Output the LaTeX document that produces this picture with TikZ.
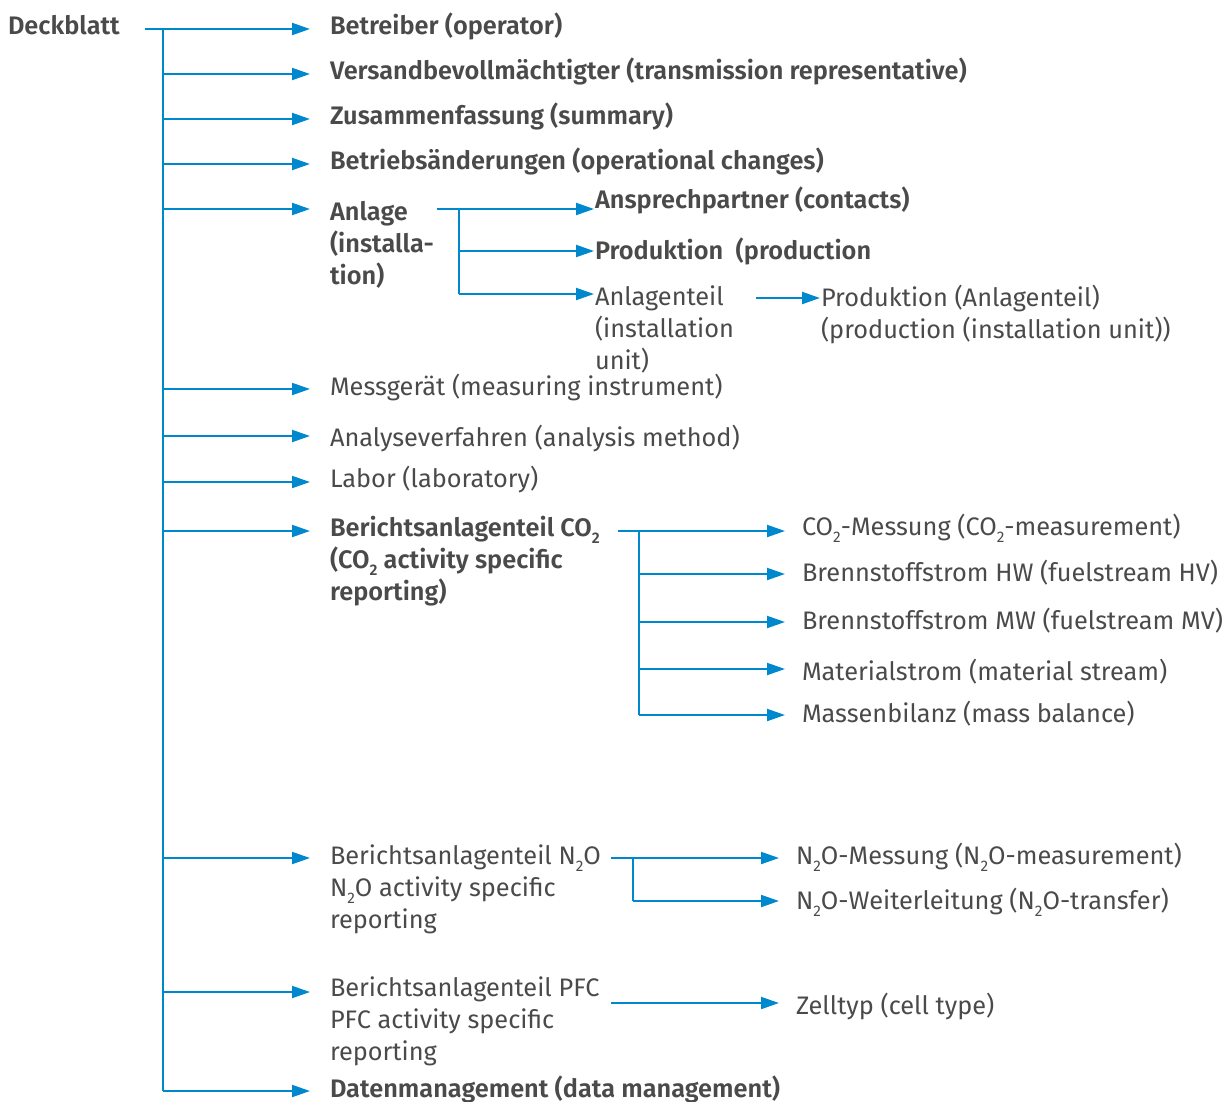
\documentclass[tikz,border=0pt]{standalone}
\usepackage{fontspec}
\setmainfont{Fira Sans}[BoldFont={Fira Sans SemiBold}]
\usetikzlibrary{arrows.meta,calc}
\definecolor{lineblue}{HTML}{0088CE}
\definecolor{txtgray}{HTML}{4A4A4A}
\newcommand\subtwo{\raisebox{-0.3em}{\fontsize{11.5}{11.5}\selectfont 2}}
\begin{document}
\begin{tikzpicture}[x=0.75pt,y=-0.75pt,
  lbl/.style={anchor=base west,inner sep=0pt,outer sep=0pt,text=txtgray,font=\fontsize{19}{24}\selectfont,align=left},
  blbl/.style={lbl,font=\fontsize{19}{24}\selectfont\bfseries},
  conn/.style={draw=lineblue,line width=1.5pt},
  arr/.style={conn,-{Triangle[length=13.5pt,width=9pt]}}]
\useasboundingbox (0,0) rectangle (1232,1101);
% texts (multi-line nodes are anchored at the baseline of their last line)
\node[blbl] (deck) at (8,34) {Deckblatt};
\node[blbl] (betr) at (330,34) {Betreiber (operator)};
\node[blbl] (vers) at (330,79) {Versandbevollmächtigter (transmission representative)};
\node[blbl] (zus) at (330,124) {Zusammenfassung (summary)};
\node[blbl] (bae) at (330,169) {Betriebsänderungen (operational changes)};
\node[blbl] (anl) at (330,284) {Anlage\\(installa-\\tion)};
\node[blbl] (ansp) at (595,208) {Ansprechpartner (contacts)};
\node[blbl] (prod) at (595,259) {Produktion\ \ (production};
\node[lbl] (ateil) at (595,369) {Anlagenteil\\(installation\\unit)};
\node[lbl] (prodat) at (821,338) {Produktion (Anlagenteil)\\(production (installation unit))};
\node[lbl] (mess) at (330,395) {Messgerät (measuring instrument)};
\node[lbl] (analy) at (330,446) {Analyseverfahren (analysis method)};
\node[lbl] (labor) at (330,487) {Labor (laboratory)};
\node[blbl] (co2) at (330,600) {Berichtsanlagenteil CO\subtwo\\(CO\subtwo\ activity specific\\reporting)};
\node[lbl] (co2m) at (802,535) {CO\subtwo-Messung (CO\subtwo-measurement)};
\node[lbl] (bhw) at (802,581) {Brennstoffstrom HW (fuelstream HV)};
\node[lbl] (bmw) at (802,629) {Brennstoffstrom MW (fuelstream MV)};
\node[lbl] (mat) at (802,680) {Materialstrom (material stream)};
\node[lbl] (mbil) at (802,722) {Massenbilanz (mass balance)};
\node[lbl] (n2o) at (330,928) {Berichtsanlagenteil N\subtwo O\\N\subtwo O activity specific\\reporting};
\node[lbl] (n2om) at (796,864) {N\subtwo O-Messung (N\subtwo O-measurement)};
\node[lbl] (n2ow) at (796,909) {N\subtwo O-Weiterleitung (N\subtwo O-transfer)};
\node[lbl] (pfc) at (330,1060) {Berichtsanlagenteil PFC\\PFC activity specific\\reporting};
\node[lbl] (zell) at (796,1014) {Zelltyp (cell type)};
\node[blbl] (daten) at (330,1097) {Datenmanagement (data management)};
% trunk
\coordinate (dkout) at (145,29);
\coordinate (trT) at (163,29);
\coordinate (trB) at (163,1091);
\draw[conn] (dkout) -- (trT) -- (trB);
\foreach \n/\y in {betr/29,vers/74,zus/119,bae/164,anl/209,mess/389,analy/436,labor/482,co2/531,n2o/858,pfc/992,daten/1091}{
  \coordinate (tip-\n) at (310,\y);
  \draw[arr] (trT |- tip-\n) -- (tip-\n);
}
% Anlage branch
\coordinate (anlout) at (437,209);
\coordinate (anlT) at (459,209);
\coordinate (anlB) at (459,294);
\draw[conn] (anlout) -- (anlT) -- (anlB);
\foreach \n/\y in {ansp/209,prod/251,ateil/294}{
  \coordinate (tip-\n) at (594,\y);
  \draw[arr] (anlT |- tip-\n) -- (tip-\n);
}
\coordinate (atout) at (756,298);
\coordinate (tip-prodat) at (820,298);
\draw[arr] (atout) -- (tip-prodat);
% CO2 branch
\coordinate (co2out) at (618,531);
\coordinate (co2T) at (639,531);
\coordinate (co2B) at (639,715);
\draw[conn] (co2out) -- (co2T) -- (co2B);
\foreach \n/\y in {co2m/531,bhw/574,bmw/622,mat/669,mbil/715}{
  \coordinate (tip-\n) at (785,\y);
  \draw[arr] (co2T |- tip-\n) -- (tip-\n);
}
% N2O branch
\coordinate (n2oout) at (611,858);
\coordinate (n2oT) at (633,858);
\coordinate (n2oB) at (633,901);
\draw[conn] (n2oout) -- (n2oT) -- (n2oB);
\foreach \n/\y in {n2om/858,n2ow/901}{
  \coordinate (tip-\n) at (779,\y);
  \draw[arr] (n2oT |- tip-\n) -- (tip-\n);
}
% PFC branch
\coordinate (pfcout) at (611,1003);
\coordinate (tip-zell) at (779,1003);
\draw[arr] (pfcout) -- (tip-zell);
\end{tikzpicture}
\end{document}
